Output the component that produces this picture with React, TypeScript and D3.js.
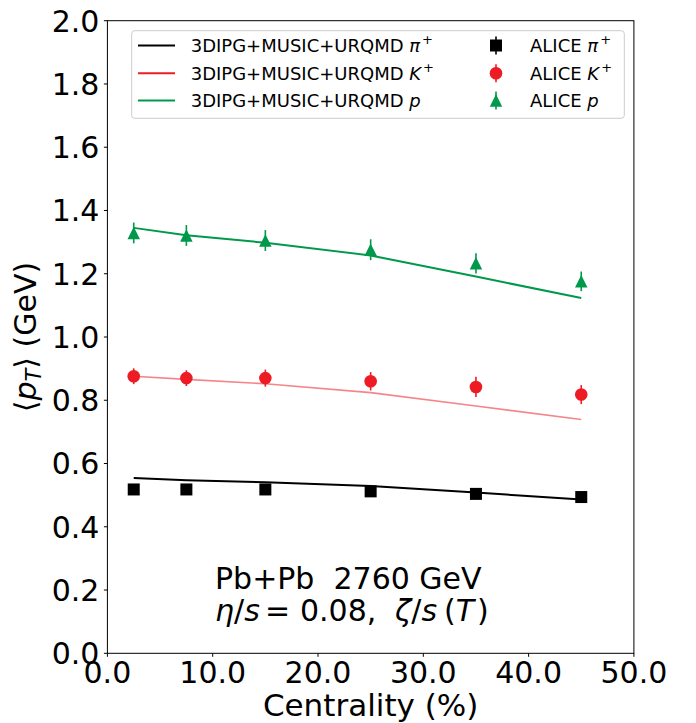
import React from "react";
import * as d3 from "d3";

const centrality = [2.5, 7.5, 15, 25, 35, 45];

// Model curves (3DIPG+MUSIC+URQMD)
const modelPion = [0.554, 0.547, 0.541, 0.529, 0.508, 0.486];
const modelKaon = [0.876, 0.866, 0.852, 0.824, 0.782, 0.739];
const modelProton = [1.345, 1.322, 1.298, 1.258, 1.191, 1.123];

// ALICE data
const alicePion = [0.518, 0.518, 0.518, 0.512, 0.504, 0.494];
const alicePionErr = [0.015, 0.015, 0.015, 0.015, 0.015, 0.015];
const aliceKaon = [0.876, 0.870, 0.870, 0.860, 0.842, 0.818];
const aliceKaonErr = [0.025, 0.025, 0.027, 0.029, 0.032, 0.030];
const aliceProton = [1.329, 1.321, 1.305, 1.276, 1.233, 1.176];
const aliceProtonErr = [0.033, 0.033, 0.033, 0.033, 0.032, 0.031];

const xTicks = [0, 10, 20, 30, 40, 50];
const yTicks = [0, 0.2, 0.4, 0.6, 0.8, 1.0, 1.2, 1.4, 1.6, 1.8, 2.0];

const W = 696;
const H = 723;
const L = 107.4;
const R = 633.9;
const T = 20.7;
const B = 653.3;

const FONT = "DejaVu Sans, sans-serif";

const BLACK = "#000000";
const RED = "#ed1c24";
const RED_LINE = "#f4868b";
const GREEN = "#00994c";

export default function App() {
  const x = d3.scaleLinear().domain([0, 50]).range([L, R]);
  const y = d3.scaleLinear().domain([0, 2]).range([B, T]);

  const line = d3
    .line<number>()
    .x((_, i) => x(centrality[i]))
    .y((d) => y(d));

  const models = [
    { vals: modelPion, color: BLACK, w: 2 },
    { vals: modelKaon, color: RED_LINE, w: 1.6 },
    { vals: modelProton, color: GREEN, w: 2 },
  ];

  const sq = 12;
  const cr = 6.3;
  const tri = 12.5;
  const triPath = (cx: number, cy: number, s: number) =>
    `M${cx},${cy - s / 2}L${cx - s / 2},${cy + s / 2}L${cx + s / 2},${cy + s / 2}Z`;

  const errBars = (vals: number[], errs: number[], color: string) =>
    vals.map((v, i) => (
      <line
        key={"e" + i}
        x1={x(centrality[i])}
        x2={x(centrality[i])}
        y1={y(v - errs[i])}
        y2={y(v + errs[i])}
        stroke={color}
        strokeWidth={1.6}
      />
    ));

  const legendRows = [
    { sym: "π", sup: "+", color: BLACK, y: 45.5, ty: 51.7 },
    { sym: "K", sup: "+", color: RED, y: 73.3, ty: 79.5 },
    { sym: "p", sup: "", color: GREEN, y: 100.5, ty: 107.3 },
  ];

  return (
    <svg
      width={W}
      height={H}
      style={{ position: "absolute", left: 0, top: 0, background: "#fff" }}
      fontFamily={FONT}
    >
      <rect x={0} y={0} width={W} height={H} fill="#fff" />

      {/* model lines */}
      {models.map((m, k) => (
        <path key={k} d={line(m.vals) || ""} fill="none" stroke={m.color} strokeWidth={m.w} />
      ))}

      {/* ALICE pion */}
      {errBars(alicePion, alicePionErr, BLACK)}
      {alicePion.map((v, i) => (
        <rect
          key={"p" + i}
          x={x(centrality[i]) - sq / 2}
          y={y(v) - sq / 2}
          width={sq}
          height={sq}
          fill={BLACK}
        />
      ))}
      {/* ALICE kaon */}
      {errBars(aliceKaon, aliceKaonErr, RED)}
      {aliceKaon.map((v, i) => (
        <circle key={"k" + i} cx={x(centrality[i])} cy={y(v)} r={cr} fill={RED} />
      ))}
      {/* ALICE proton */}
      {errBars(aliceProton, aliceProtonErr, GREEN)}
      {aliceProton.map((v, i) => (
        <path key={"pr" + i} d={triPath(x(centrality[i]), y(v), tri)} fill={GREEN} />
      ))}

      {/* frame */}
      <rect x={L} y={T} width={R - L} height={B - T} fill="none" stroke="#000" strokeWidth={1} />

      {/* y ticks */}
      {yTicks.map((t) => (
        <g key={"yt" + t}>
          <line x1={L - 3.5} x2={L} y1={y(t)} y2={y(t)} stroke="#000" strokeWidth={1} />
          <text x={L - 8} y={y(t)} dy="0.36em" textAnchor="end" fontSize={30} fill="#000">
            {t.toFixed(1)}
          </text>
        </g>
      ))}
      {/* x ticks */}
      {xTicks.map((t) => (
        <g key={"xt" + t}>
          <line x1={x(t)} x2={x(t)} y1={B} y2={B + 3.5} stroke="#000" strokeWidth={1} />
          <text x={x(t)} y={683.3} textAnchor="middle" fontSize={30} fill="#000">
            {t.toFixed(1)}
          </text>
        </g>
      ))}

      {/* axis labels */}
      <text x={(L + R) / 2} y={716} textAnchor="middle" fontSize={31} fill="#000">
        Centrality (%)
      </text>
      <text
        transform={`translate(36,${(T + B) / 2}) rotate(-90)`}
        textAnchor="middle"
        fontSize={30}
        fill="#000"
      >
        ⟨<tspan fontStyle="italic">p</tspan>
        <tspan fontStyle="italic" fontSize={21} dy={5}>T</tspan>
        <tspan dy={-5}>⟩ (GeV)</tspan>
      </text>

      {/* legend */}
      <rect
        x={131.7}
        y={30.7}
        width={624.3 - 131.7}
        height={118.3 - 30.7}
        rx={3}
        fill="#fff"
        fillOpacity={0.8}
        stroke="#cccccc"
        strokeWidth={1}
      />
      {legendRows.map((r, i) => (
        <g key={"lg" + i}>
          <line x1={138} x2={175} y1={r.y} y2={r.y} stroke={r.color} strokeWidth={2} />
          <text x={190.7} y={r.ty} fontSize={18} fill="#000">
            3DIPG+MUSIC+URQMD <tspan fontStyle="italic">{r.sym}</tspan>
            {r.sup && (
              <tspan fontSize={13} dx={2} dy={-8}>
                {r.sup}
              </tspan>
            )}
          </text>
          <line x1={496} x2={496} y1={r.y - 9} y2={r.y + 9} stroke={r.color} strokeWidth={1.6} />
          {i === 0 && <rect x={496 - sq / 2} y={r.y - sq / 2} width={sq} height={sq} fill={BLACK} />}
          {i === 1 && <circle cx={496} cy={r.y} r={cr} fill={RED} />}
          {i === 2 && <path d={triPath(496, r.y, tri)} fill={GREEN} />}
          <text x={530} y={r.ty} fontSize={18} fill="#000">
            ALICE <tspan fontStyle="italic">{r.sym}</tspan>
            {r.sup && (
              <tspan fontSize={13} dx={2} dy={-8}>
                {r.sup}
              </tspan>
            )}
          </text>
        </g>
      ))}

      {/* annotation */}
      <text x={215} y={589} fontSize={30} fill="#000" style={{ whiteSpace: "pre" }}>
        {"Pb+Pb  2760 GeV"}
      </text>
      <text y={621} fontSize={30} fill="#000" style={{ whiteSpace: "pre" }}>
        <tspan x={215} fontStyle="italic">η</tspan>
        <tspan>/</tspan>
        <tspan fontStyle="italic">s</tspan>
        <tspan x={265}>=</tspan>
        <tspan x={300}>0.08,</tspan>
        <tspan x={395} fontStyle="italic">ζ</tspan>
        <tspan>/</tspan>
        <tspan fontStyle="italic">s</tspan>
        <tspan x={444}>(</tspan>
        <tspan fontStyle="italic">T</tspan>
        <tspan dx={3}>)</tspan>
      </text>
    </svg>
  );
}
